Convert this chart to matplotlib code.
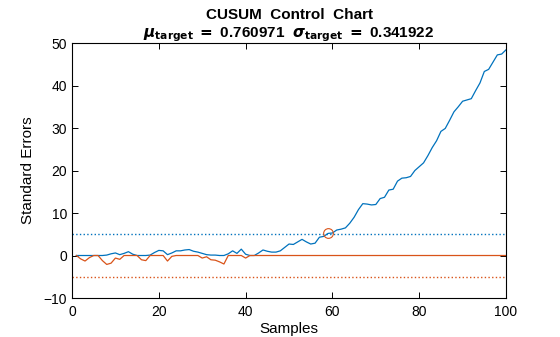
# CUSUM control chart (upper / lower cumulative sums in standard errors)
import numpy as np
import matplotlib
matplotlib.use("Agg")
import matplotlib.pyplot as plt

plt.rcParams['font.family'] = ['Liberation Sans', 'DejaVu Sans']

samples = np.arange(1, 101)

upper = [0, 0, 0, 0, 0, 0, 0, 0.1, 0.4, 0.6,
         0.2, 0.5, 0.9, 0.3, 0, 0, 0, 0.1, 0.7, 1.2,
         1.1, 0.2, 0.6, 1.1, 1.1, 1.3, 1.4, 1.0, 0.8, 0.5,
         0.2, 0.1, 0.1, 0, 0, 0.4, 1.1, 0.5, 1.5, 0.3,
         0, 0, 0.6, 1.3, 1.0, 0.8, 0.8, 1.1, 1.9, 2.7,
         2.6, 3.2, 3.8, 3.2, 2.7, 2.9, 4.3, 4.5, 5.2, 5.3,
         6.0, 6.2, 6.5, 7.6, 9.0, 10.8, 12.2, 12.1, 11.9, 12.0,
         13.4, 13.7, 15.4, 15.6, 17.5, 18.2, 18.3, 18.6, 20.0, 20.9,
         21.8, 23.5, 25.4, 27.0, 29.2, 29.9, 31.8, 33.8, 35.0, 36.3,
         36.6, 36.9, 38.8, 40.6, 43.3, 43.8, 45.5, 47.2, 47.4, 48.4]

lower = [0, -0.8, -1.3, -0.5, 0, 0, -1.2, -2.1, -1.8, -0.6,
         -0.9, 0, 0, 0, 0, -1.0, -1.2, 0, 0, 0,
         0, -1.3, -0.2, 0, 0, 0, 0, 0, 0, -0.6,
         -0.3, -1.0, -1.1, -1.5, -2.0, 0, 0, 0, 0, -0.6] + [0] * 60

threshold = 5
out_idx = 58  # first sample above the upper limit
mu_target = 0.760971
sigma_target = 0.341922

blue = '#0072BD'
orange = '#D95319'

fig = plt.figure(figsize=(5.6, 3.37), dpi=100)
ax = fig.add_axes([0.1286, 0.1157, 0.775, 0.7567])

ax.plot(samples, upper, color=blue, lw=0.9)
ax.plot(samples, lower, color=orange, lw=0.9)
ax.axhline(threshold, color=blue, ls=':', lw=1.0)
ax.axhline(-threshold, color=orange, ls=':', lw=1.0)
ax.plot(samples[out_idx], upper[out_idx], 'o', mfc='none', mec=orange,
        ms=7, mew=0.8)

ax.set_xlim(0, 100)
ax.set_ylim(-10, 50)
ax.set_xticks(range(0, 101, 20))
ax.set_yticks(range(-10, 51, 10))
ax.tick_params(direction='in', top=True, right=True, length=4, width=0.7,
               labelsize=10)
ax.tick_params(axis='x', pad=5)
for s in ax.spines.values():
    s.set_linewidth(0.8)

ax.set_xlabel('Samples', fontsize=11, labelpad=2)
ax.set_ylabel('Standard Errors', fontsize=11, labelpad=6)
title = ('CUSUM  Control  Chart\n'
         r'$\boldsymbol{\mu}_{\mathbf{target}}$ $\mathbf{=}$ ' + f'{mu_target:.6f}  '
         r'$\boldsymbol{\sigma}_{\mathbf{target}}$ $\mathbf{=}$ ' + f'{sigma_target:.6f}')
ax.set_title(title, fontsize=11, fontweight='bold', pad=4, linespacing=1.3)

fig.savefig('out.png', dpi=100)
